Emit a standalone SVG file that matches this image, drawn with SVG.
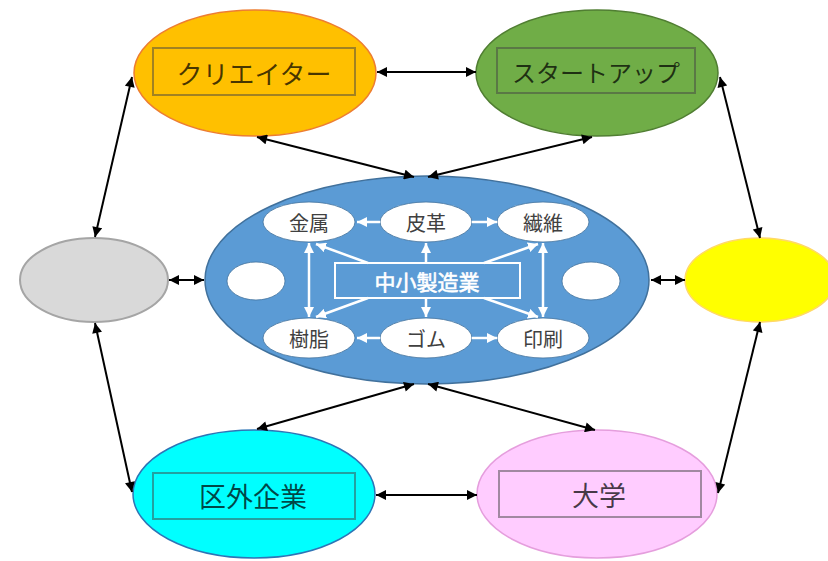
<svg xmlns="http://www.w3.org/2000/svg" width="828" height="561" viewBox="0 0 828 561">
<style>
.big{font-family:"Noto Sans CJK JP","Noto Sans CJK SC",sans-serif;font-size:26px;text-anchor:middle;dominant-baseline:central;fill:#000;fill-opacity:0.72}
.box{fill:none;stroke:#444;stroke-opacity:0.5;stroke-width:2}
.sm{font-family:"Noto Sans CJK JP","Noto Sans CJK SC",sans-serif;font-size:20px;text-anchor:middle;dominant-baseline:central;fill:#404040}
.inner{fill:#fff;stroke:#41719C;stroke-width:0.8}
.blk{stroke:#000;stroke-width:2;fill:none;marker-start:url(#ab);marker-end:url(#ab)}
.wh1{stroke:#fff;stroke-width:2.5;fill:none;marker-end:url(#aw)}
.wh2{stroke:#fff;stroke-width:2.5;fill:none;marker-start:url(#aw);marker-end:url(#aw)}
</style>
<defs>
<marker id="ab" viewBox="0 0 10 10" refX="10" refY="5" markerWidth="12" markerHeight="10" markerUnits="userSpaceOnUse" orient="auto-start-reverse"><path d="M0,0 L10,5 L0,10 z" fill="#000"/></marker>
<marker id="aw" viewBox="0 0 10 10" refX="10" refY="5" markerWidth="10" markerHeight="10" markerUnits="userSpaceOnUse" orient="auto-start-reverse"><path d="M0,0 L10,5 L0,10 z" fill="#fff"/></marker>
</defs>
<rect width="828" height="561" fill="#fff"/>

<g id="creator">
<ellipse cx="255" cy="73" rx="121" ry="63" fill="#FFC000" stroke="#ED7D31" stroke-width="1.5"/>
<rect class="box" x="153" y="48" width="202" height="47"/>
<text class="big" x="254" y="72">クリエイター</text>
</g>
<g id="startup">
<ellipse cx="597" cy="73" rx="121" ry="63" fill="#70AD47" stroke="#507E32" stroke-width="1.5"/>
<rect class="box" x="497" y="48" width="198" height="45"/>
<text class="big" x="596" y="71" style="font-size:24px">スタートアップ</text>
</g>
<g id="gray">
<ellipse cx="94" cy="280" rx="74" ry="42" fill="#D9D9D9" stroke="#A5A5A5" stroke-width="2"/>
</g>
<g id="yellow">
<ellipse cx="760" cy="280" rx="75" ry="42" fill="#FFFF00" stroke="#FFD966" stroke-width="1.5"/>
</g>
<g id="gaigai">
<ellipse cx="254" cy="494" rx="121" ry="64" fill="#00FFFF" stroke="#2E75B6" stroke-width="1.5"/>
<rect class="box" x="153" y="473" width="202" height="46"/>
<text class="big" x="253" y="495" style="font-size:27px">区外企業</text>
</g>
<g id="daigaku">
<ellipse cx="597" cy="494" rx="120" ry="64" fill="#FFCCFF" stroke="#E59EDD" stroke-width="1.5"/>
<rect class="box" x="499" y="471" width="202" height="46"/>
<text class="big" x="599" y="494" style="font-size:27px">大学</text>
</g>

<g id="manufacturing">
<ellipse cx="427" cy="280" rx="222" ry="104" fill="#5B9BD5" stroke="#41719C" stroke-width="1.5"/>
<ellipse cx="256" cy="281" rx="29" ry="19" class="inner"/>
<ellipse cx="591" cy="281" rx="29" ry="19" class="inner"/>
<g id="kinzoku"><ellipse cx="309" cy="222" rx="46" ry="20" class="inner"/><text class="sm" x="309" y="222">金属</text></g>
<g id="hikaku"><ellipse cx="426" cy="222" rx="46" ry="20" class="inner"/><text class="sm" x="426" y="222">皮革</text></g>
<g id="seni"><ellipse cx="543" cy="222" rx="46" ry="20" class="inner"/><text class="sm" x="543" y="222">繊維</text></g>
<g id="jushi"><ellipse cx="309" cy="338" rx="46" ry="20" class="inner"/><text class="sm" x="309" y="338">樹脂</text></g>
<g id="gomu"><ellipse cx="426" cy="338" rx="46" ry="20" class="inner"/><text class="sm" x="426" y="338">ゴム</text></g>
<g id="insatsu"><ellipse cx="543" cy="338" rx="46" ry="20" class="inner"/><text class="sm" x="543" y="338">印刷</text></g>
<g id="chusho">
<rect x="335" y="263" width="185" height="35" fill="none" stroke="#fff" stroke-width="2"/>
<text x="427" y="281" style="font-family:'Noto Sans CJK JP','Noto Sans CJK SC',sans-serif;font-size:21px;text-anchor:middle;dominant-baseline:central;fill:#fff;stroke:#fff;stroke-width:0.6">中小製造業</text>
</g>
</g>

<g id="connectors">
<line class="wh1" x1="380" y1="222" x2="357" y2="222"/>
<line class="wh1" x1="472" y1="222" x2="497" y2="222"/>
<line class="wh1" x1="380" y1="338" x2="357" y2="338"/>
<line class="wh1" x1="472" y1="338" x2="497" y2="338"/>
<line class="wh2" x1="309" y1="243" x2="309" y2="317"/>
<line class="wh2" x1="543" y1="243" x2="543" y2="317"/>
<line class="wh1" x1="426" y1="263" x2="426" y2="243"/>
<line class="wh1" x1="426" y1="298" x2="426" y2="317"/>
<line class="wh1" x1="368" y1="263" x2="316" y2="244"/>
<line class="wh1" x1="484" y1="263" x2="538" y2="244"/>
<line class="wh1" x1="368" y1="298" x2="316" y2="317"/>
<line class="wh1" x1="484" y1="298" x2="538" y2="317"/>

<line class="blk" x1="377" y1="72" x2="476" y2="72"/>
<line class="blk" x1="257" y1="137" x2="414" y2="177"/>
<line class="blk" x1="592" y1="137" x2="428" y2="177"/>
<line class="blk" x1="414" y1="384" x2="257" y2="429"/>
<line class="blk" x1="428" y1="384" x2="595" y2="430"/>
<line class="blk" x1="376" y1="495" x2="477" y2="495"/>
<line class="blk" x1="95" y1="237" x2="132" y2="77"/>
<line class="blk" x1="95" y1="323" x2="132" y2="492"/>
<line class="blk" x1="720" y1="77" x2="760" y2="238"/>
<line class="blk" x1="760" y1="322" x2="718" y2="493"/>
<line class="blk" x1="169" y1="280" x2="204" y2="280"/>
<line class="blk" x1="651" y1="280" x2="685" y2="280"/>
</g>
</svg>
